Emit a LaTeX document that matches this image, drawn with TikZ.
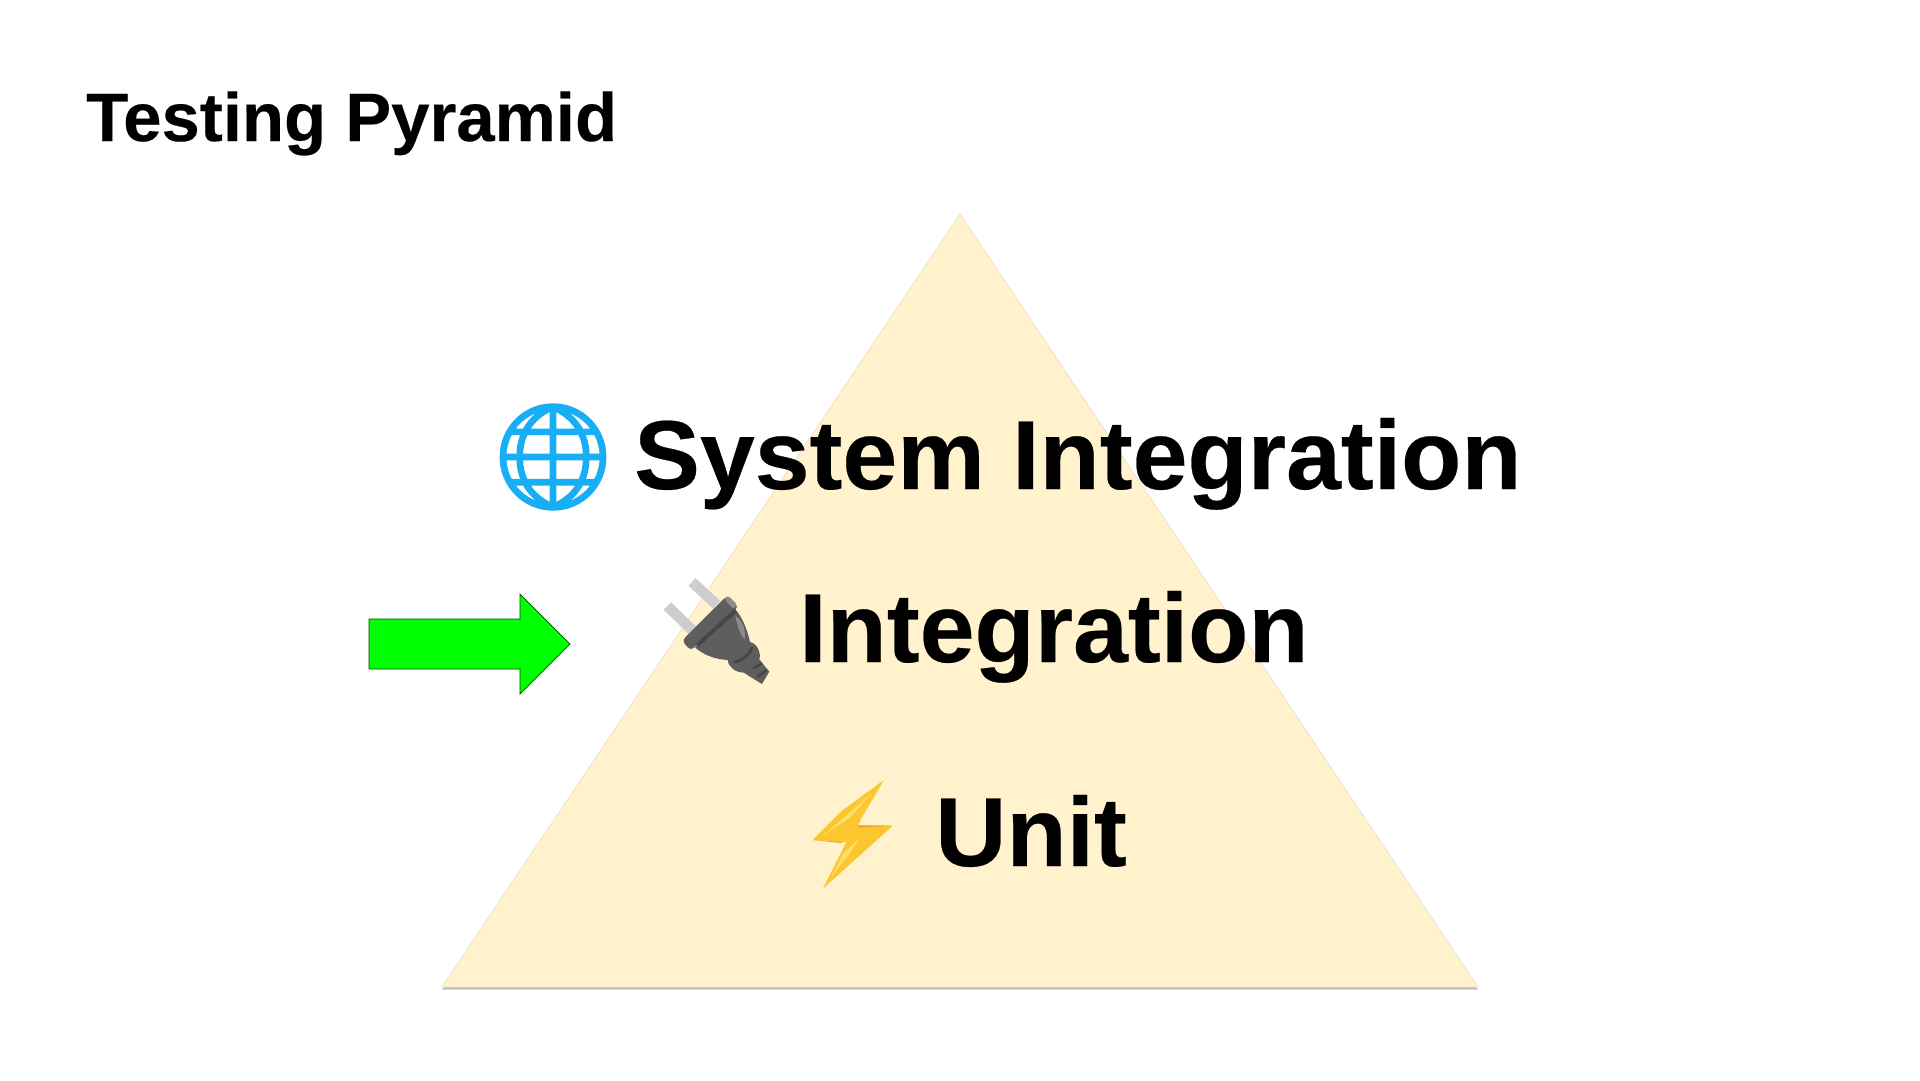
\documentclass[tikz,border=0pt]{standalone}
\usepackage{fontspec}
\setmainfont{Liberation Sans}[BoldFont={Liberation Sans Bold},BoldFeatures={FakeBold=0.25,FakeStretch=1.006}]
\newfontfamily\emojifont{Noto Emoji}
\newfontfamily\emojibold[FakeBold=2.6]{Noto Emoji}
\definecolor{pyr}{HTML}{FFF2CC}
\definecolor{pyredge}{HTML}{EFE6CC}
\definecolor{globeblue}{HTML}{18AEF5}
\definecolor{boltyellow}{HTML}{FCC72E}
\definecolor{boltlight}{HTML}{FFDF6B}
\definecolor{boltdark}{HTML}{F7AE22}
\definecolor{plugbody}{HTML}{5E5E5E}
\definecolor{plugdark}{HTML}{464646}
\definecolor{pluglight}{HTML}{8C8C8C}
\definecolor{plugprong}{HTML}{CDCDCD}
\tikzset{
  big/.style={anchor=base west,inner sep=0pt,font=\fontsize{98}{110}\selectfont\bfseries,text=black},
  emo/.style={anchor=center,inner sep=0pt,font=\fontsize{100}{110}\selectfont\emojifont},
  zoomed/.style={shift={#1},x=.3333pt,y=-.3333pt},
}
\begin{document}
\begin{tikzpicture}[x=1pt,y=-1pt]
\useasboundingbox (0,0) rectangle (1920,1080);
\fill[white] (0,0) rectangle (1920,1080);
\coordinate (apex) at (960,214);
\coordinate (bl) at (442,987);
\coordinate (br) at (1478,987);
\fill[black!35,opacity=.7] (442,989.5) -- (1478,989.5) -- (1476,987) -- (444,987) -- cycle;
\fill[pyr] (apex) -- (br) -- (bl) -- cycle;
\draw[pyredge,line width=1pt] (bl) -- (apex) -- (br);
\node[big] (title) at (86,141) {\fontsize{68.5}{74}\selectfont Testing Pyramid};
\node[big] (sys) at (634,489) {System Integration};
\node[big] (int) at (799,662) {Integration};
\node[big] (unit) at (935,866) {Unit};
\node[emo,font=\fontsize{103}{110}\selectfont\emojibold,text=globeblue] (globe) at (553,457) {🌐};
% plug
\node[emo,font=\fontsize{40}{44}\selectfont\emojifont,text=plugbody] (plug) at (724,638) {🔌};
\begin{scope}[zoomed={(660,570)}]
  \draw[plugprong,line width=10.5pt] (96,36) -- (170,104);
  \draw[plugprong,line width=10.5pt] (22,108) -- (98,182);
  \fill[plugbody] (105,232) -- (226,118) .. controls (252,148) and (264,190) .. (270,216)
     .. controls (292,220) and (304,250) .. (298,268) -- (328,305) -- (306,342) -- (270,320) -- (252,308)
     .. controls (225,307) and (206,292) .. (203,270) .. controls (165,268) and (130,255) .. (105,232) -- cycle;
  \fill[plugbody,rounded corners=4pt] (66,212) -- (200,78) -- (236,110) -- (92,242) -- cycle;
  \fill[pluglight,rounded corners=3pt] (192,86) -- (204,76) -- (232,104) -- (220,118) -- cycle;
  \draw[plugdark,line width=4pt] (112,226) -- (226,122);
  \fill[pluglight] (226,138) .. controls (248,150) and (258,180) .. (254,208) .. controls (238,190) and (232,165) .. (226,138) -- cycle;
  \draw[plugdark,line width=3pt,line cap=round] (226,276) .. controls (250,270) and (268,254) .. (276,234);
  \draw[plugdark,line width=2.5pt,line cap=round] (282,294) -- (304,282);
  \draw[plugdark,line width=2.5pt,line cap=round] (292,320) -- (318,302);
\end{scope}
% bolt
\node[emo,font=\fontsize{24}{28}\selectfont\emojifont,text=boltyellow] (bolt) at (853,832) {⚡};
\begin{scope}[zoomed={(800,775)}]
  \fill[boltyellow,rounded corners=1pt] (252,15) -- (172,150) -- (278,152) -- (68,342) -- (140,200) -- (38,195) -- (125,108) -- cycle;
  \fill[boltlight] (215,55) -- (150,128) -- (68,182) -- (135,125) -- cycle;
  \fill[boltlight] (178,190) -- (145,240) -- (92,310) -- (130,235) -- cycle;
  \fill[boltdark] (172,150) -- (278,152) -- (175,160) -- cycle;
  \fill[boltdark] (38,195) -- (140,200) -- (120,204) -- cycle;
\end{scope}
\draw[fill=green,draw=black!70!green,line width=.7pt] (369,619) -- (520,619) -- (520,594) -- (570,644) -- (520,694) -- (520,669) -- (369,669) -- cycle;
\end{tikzpicture}
\end{document}
